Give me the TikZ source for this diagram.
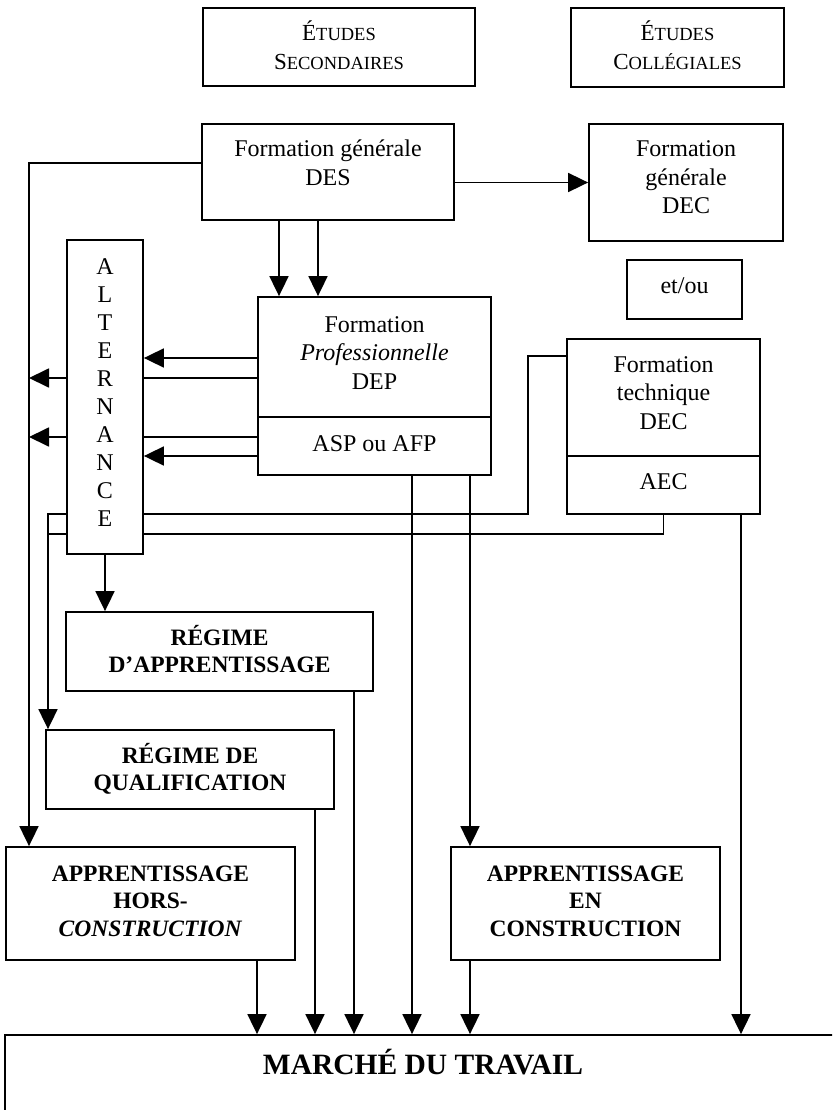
\documentclass[tikz,border=0pt]{standalone}
\usepackage{fontspec}
\setmainfont{Liberation Serif}
\usetikzlibrary{arrows.meta,backgrounds}
\newcommand{\mlines}[1]{\begin{tabular}[t]{@{}c@{}}#1\end{tabular}}
\newcommand{\fakesc}[2]{{\fontsize{23}{27}\selectfont #1}{\fontsize{18.5}{27}\selectfont #2}}
\begin{document}
\begin{tikzpicture}[x=1pt,y=-1pt,
  box/.style={draw,line width=1.8pt,fill=white,inner sep=0pt},
  txt/.style={anchor=base,inner sep=0pt,font=\fontsize{24}{28.5}\selectfont},
  btxt/.style={anchor=base,inner sep=0pt,font=\fontsize{23.5}{27.5}\selectfont\bfseries},
  arr/.style={line width=1.8pt,-{Triangle[length=20pt,width=19pt]}},
  ln/.style={line width=1.8pt}]
\useasboundingbox (0,0) rectangle (832,1110);
\clip (0,0) rectangle (832,1110);
% boxes
\node[box,minimum width=272pt,minimum height=78pt] (sec) at (339,47) {};
\node[box,minimum width=213pt,minimum height=79pt] (col) at (677.5,47.5) {};
\node[box,minimum width=252pt,minimum height=96pt] (des) at (328,172) {};
\node[box,minimum width=194pt,minimum height=117pt] (dec) at (686,182.5) {};
\node[box,minimum width=115pt,minimum height=59pt] (etou) at (684.5,289.5) {};
\node[box,minimum width=76pt,minimum height=314pt] (alt) at (105,397) {};
\node[box,minimum width=233pt,minimum height=178pt] (dep) at (374.5,386) {};
\node[box,minimum width=193pt,minimum height=175pt] (tech) at (663.5,426.5) {};
\node[box,minimum width=307pt,minimum height=79pt] (regA) at (219.5,651.5) {};
\node[box,minimum width=288pt,minimum height=79pt] (regQ) at (190,769.5) {};
\node[box,minimum width=289pt,minimum height=113pt] (hors) at (150.5,903.5) {};
\node[box,minimum width=269pt,minimum height=113pt] (enc) at (585.5,903.5) {};
\node[box,minimum width=855pt,minimum height=105pt] (marche) at (432.5,1087.5) {};
% dividers
\draw[ln] (dep.west |- 0,417) coordinate (depd) -- (dep.east |- 0,417) coordinate (depe);
\draw[ln] (tech.west |- 0,456) coordinate (techd) -- (tech.east |- 0,456) coordinate (teche);
% texts
\node[txt] (secT) at (339,41) {\mlines{\fakesc{É}{TUDES}\\\fakesc{S}{ECONDAIRES}}};
\node[txt] (colT) at (677.5,41) {\mlines{\fakesc{É}{TUDES}\\\fakesc{C}{OLLÉGIALES}}};
\node[txt] (desT) at (328,157) {\mlines{Formation générale\\DES}};
\node[txt] (decT) at (686,157) {\mlines{Formation\\générale\\DEC}};
\node[txt] (etouT) at (684.5,293) {et/ou};
\node[txt,font=\fontsize{24}{28.1}\selectfont] (altT) at (105,274) {\mlines{A\\L\\T\\E\\R\\N\\A\\N\\C\\E}};
\node[txt] (depT) at (374.5,332) {\mlines{Formation\\\textit{Professionnelle}\\DEP}};
\node[txt] (aspT) at (374.5,451) {ASP ou AFP};
\node[txt] (techT) at (663.5,372) {\mlines{Formation\\technique\\DEC}};
\node[txt] (aecT) at (663.5,489) {AEC};
\node[btxt] (regAT) at (219.5,645) {\mlines{RÉGIME\\D’APPRENTISSAGE}};
\node[btxt] (regQT) at (190,763) {\mlines{RÉGIME DE\\QUALIFICATION}};
\node[btxt] (horsT) at (150.5,881) {\mlines{APPRENTISSAGE\\HORS-\\\textit{CONSTRUCTION}}};
\node[btxt] (encT) at (585.5,881) {\mlines{APPRENTISSAGE\\EN\\CONSTRUCTION}};
\node[anchor=base,inner sep=0pt,font=\fontsize{29.5}{34}\selectfont\bfseries] (marT) at (423,1074) {MARCHÉ DU TRAVAIL};
% helper coordinates
\coordinate (xL) at (29,0);
\coordinate (xQ) at (48,0);
\coordinate (d1) at (279,0);
\coordinate (d2) at (318,0);
\coordinate (cx1) at (528,0);
\coordinate (m1) at (257,0);
\coordinate (m2) at (315,0);
\coordinate (m3) at (354,0);
\coordinate (m4) at (412,0);
\coordinate (m5) at (470,0);
\coordinate (m6) at (741,0);
\coordinate (a1) at (0,358);
\coordinate (a2) at (0,378);
\coordinate (a3) at (0,437);
\coordinate (a4) at (0,456);
\coordinate (t1) at (0,356);
\coordinate (b1) at (0,514);
\coordinate (b2) at (0,534);
\begin{pgfonlayer}{background}
\draw[arr] (des.east |- dec.west) -- (dec.west);
\draw[arr] ([yshift=9pt]des.west) -| (xL |- hors.north);
\draw[arr] (des.south -| d1) -- (dep.north -| d1);
\draw[arr] (des.south -| d2) -- (dep.north -| d2);
\draw[arr] (dep.west |- a1) -- (alt.east |- a1);
\draw[arr] (dep.west |- a4) -- (alt.east |- a4);
\draw[arr] (dep.west |- a2) -- (xL |- a2);
\draw[arr] (dep.west |- a3) -- (xL |- a3);
\draw[arr] (tech.west |- t1) -| (cx1 |- b1) -- (xQ |- b1) -- (xQ |- regQ.north);
\draw[ln] (tech.south) -- (tech.south |- b2) -- (xQ |- b2);
\draw[arr] (alt.south) -- (alt.south |- regA.north);
\draw[arr] (hors.south -| m1) -- (m1 |- marche.north);
\draw[arr] (regQ.south -| m2) -- (m2 |- marche.north);
\draw[arr] (regA.south -| m3) -- (m3 |- marche.north);
\draw[arr] (dep.south -| m4) -- (m4 |- marche.north);
\draw[arr] (dep.south -| m5) -- (m5 |- enc.north);
\draw[arr] (enc.south -| m5) -- (m5 |- marche.north);
\draw[arr] (tech.south -| m6) -- (m6 |- marche.north);
\end{pgfonlayer}
\end{tikzpicture}
\end{document}
